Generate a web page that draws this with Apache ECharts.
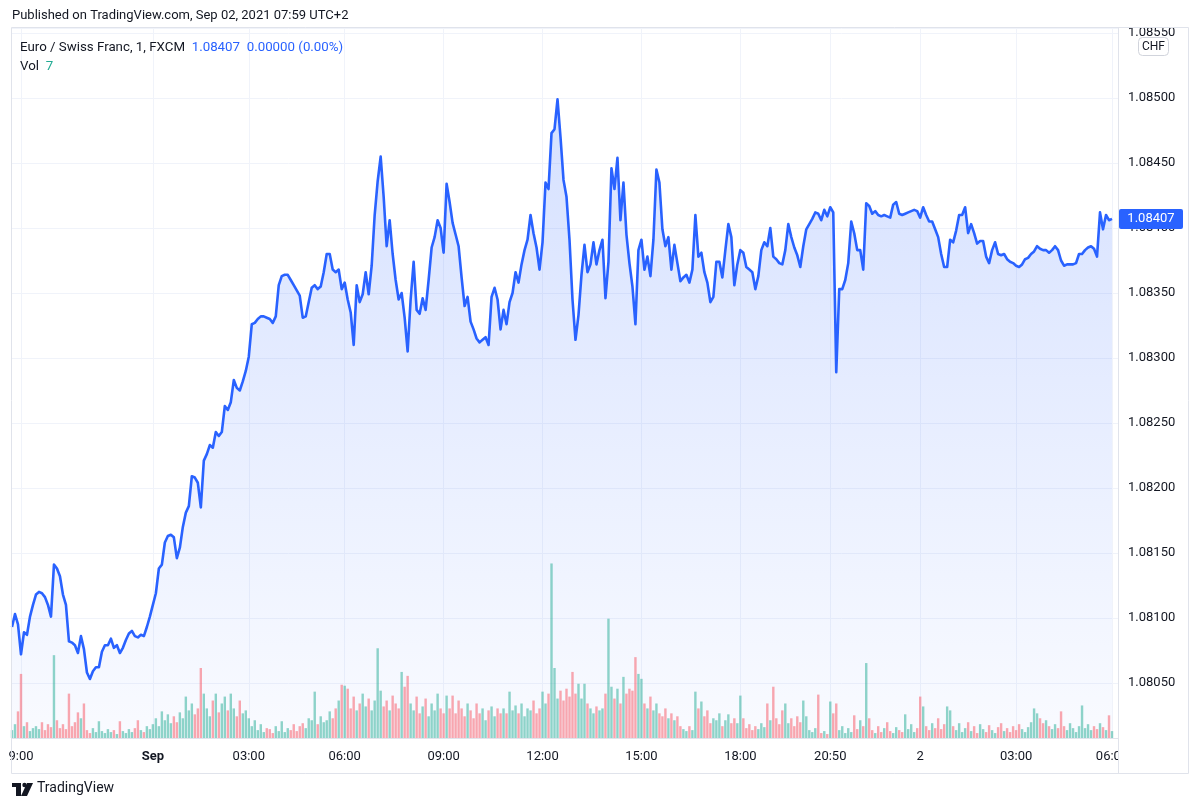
<!DOCTYPE html>
<html><head><meta charset="utf-8">
<script src="https://cdn.jsdelivr.net/npm/echarts@6/dist/echarts.min.js"></script>
<style>html,body{margin:0;padding:0;background:#fff}#chart{width:1200px;height:808px}</style>
</head><body><div id="chart"></div>
<script>
// ---- data (EUR/CHF, 1-minute, FXCM) ----
const priceValues = [
1.08093,1.08103,1.08095,1.08072,1.08089,1.08087,1.08101,1.08110,1.08118,1.08120,
1.08119,1.08116,1.08110,1.08101,1.08141,1.08138,1.08132,1.08118,1.08110,1.08082,
1.08081,1.08079,1.08073,1.08086,1.08076,1.08058,1.08053,1.08059,1.08062,1.08062,
1.08074,1.08079,1.08079,1.08084,1.08077,1.08079,1.08073,1.08077,1.08083,1.08088,
1.08090,1.08086,1.08085,1.08087,1.08086,1.08093,1.08101,1.08110,1.08119,1.08138,
1.08141,1.08158,1.08163,1.08164,1.08162,1.08146,1.08154,1.08170,1.08181,1.08186,
1.08209,1.08208,1.08204,1.08185,1.08221,1.08226,1.08233,1.08231,1.08243,1.08240,
1.08243,1.08263,1.08260,1.08266,1.08283,1.08277,1.08275,1.08282,1.08290,1.08301,
1.08326,1.08327,1.08330,1.08332,1.08332,1.08331,1.08330,1.08327,1.08332,
1.08356,1.08363,1.08364,1.08364,1.08360,1.08356,1.08352,1.08348,1.08331,1.08332,
1.08343,1.08354,1.08356,1.08353,1.08355,1.08366,1.08380,1.08380,1.08368,1.08366,
1.08368,1.08353,1.08358,1.08345,1.08335,1.08310,1.08356,1.08343,1.08349,1.08366,
1.08349,1.08371,1.08410,1.08436,1.08455,1.08424,1.08386,1.08406,1.08380,1.08360,
1.08345,1.08350,1.08331,1.08305,1.08345,1.08374,1.08337,1.08334,1.08346,1.08337,
1.08360,1.08385,1.08393,1.08406,1.08400,1.08381,1.08434,1.08420,1.08404,1.08395,
1.08386,1.08362,1.08340,1.08347,1.08328,1.08322,1.08315,1.08312,1.08314,1.08316,
1.08310,1.08347,1.08354,1.08345,1.08322,1.08337,1.08326,1.08343,1.08350,1.08366,
1.08358,1.08372,1.08383,1.08391,1.08410,1.08396,1.08385,1.08368,1.08389,1.08435,
1.08430,1.08473,1.08476,1.08499,
1.08470,1.08437,1.08424,1.08391,1.08345,1.08314,1.08333,1.08364,1.08387,1.08366,
1.08372,1.08389,1.08372,1.08383,1.08391,1.08346,1.08374,1.08446,1.08430,1.08454,
1.08406,1.08435,1.08395,1.08373,1.08355,1.08326,1.08383,1.08391,1.08368,1.08378,
1.08363,1.08391,1.08445,1.08435,1.08399,1.08386,1.08393,1.08368,1.08387,1.08373,
1.08359,1.08362,1.08364,1.08358,1.08368,1.08410,1.08378,1.08381,1.08366,1.08358,
1.08343,1.08347,1.08374,1.08374,1.08362,1.08383,1.08403,1.08393,1.08356,1.08372,
1.08383,1.08381,1.08370,1.08368,1.08366,1.08353,1.08363,1.08383,1.08389,1.08386,
1.08400,1.08378,1.08376,1.08373,1.08372,1.08383,1.08403,1.08393,1.08385,1.08379,
1.08370,1.08386,1.08399,1.08403,1.08407,1.08412,1.08411,1.08406,1.08414,1.08409,
1.08416,1.08412,
1.08289,1.08353,1.08353,1.08360,1.08373,1.08405,1.08396,1.08383,1.08383,1.08368,
1.08419,1.08417,1.08411,1.08413,1.08410,1.08409,1.08410,1.08409,1.08408,1.08418,
1.08420,1.08411,1.08410,1.08411,1.08412,1.08413,1.08414,1.08413,1.08408,1.08416,
1.08410,1.08405,1.08405,1.08399,1.08393,1.08380,1.08370,1.08370,1.08391,1.08389,
1.08398,1.08410,1.08410,1.08416,1.08396,1.08403,1.08396,1.08388,1.08390,1.08390,
1.08378,1.08373,1.08383,1.08389,1.08380,1.08379,1.08380,1.08376,1.08374,1.08373,
1.08371,1.08370,1.08372,1.08376,1.08377,1.08380,1.08382,1.08386,1.08384,1.08383,
1.08383,1.08381,1.08383,1.08386,1.08383,1.08375,1.08371,1.08372,1.08372,1.08372,
1.08373,1.08380,1.08380,1.08383,1.08385,1.08386,1.08384,1.08378,1.08412,1.08399,
1.08410,1.08406,1.08407
];
const volumeValues = [
8,14,27,65,12,16,7,10,
12,9,16,8,14,11,
84,
18,10,14,9,45,12,16,26,20,35,
8,5,10,6,17,7,5,9,6,8,4,17,7,5,9,6,10,18,8,6,12,9,
14,20,12,27,18,24,15,22,16,26,20,
42,28,35,24,30,71,
45,30,22,38,45,26,35,42,28,45,30,22,38,25,28,20,
12,18,8,14,6,10,9,5,12,7,17,6,10,8,14,7,12,
15,10,20,18,47,14,22,16,18,27,20,
30,38,54,53,50,30,42,28,35,45,32,40,28,38,91,
48,32,38,28,43,35,30,
67,52,63,35,28,42,25,32,40,22,35,28,45,30,25,
43,30,43,25,38,30,22,35,28,20,35,25,30,18,
28,32,22,30,25,
30,25,47,28,33,25,35,22,30,28,38,25,30,47,35,
45,177,71,40,48,38,50,42,67,45,55,40,55,35,30,25,32,28,
30,45,121,52,40,50,35,62,45,50,48,82,65,60,35,30,
42,28,35,25,22,30,20,25,18,22,12,9,7,12,8,
47,30,37,22,28,15,20,18,25,12,18,24,15,
20,15,43,20,10,14,8,12,9,15,11,35,18,52,20,14,28,35,15,20,12,22,16,
38,22,8,6,10,44,5,7,4,37,25,
35,8,12,5,10,6,23,9,18,12,76,
20,8,5,12,6,10,16,7,5,11,8,6,24,9,14,6,10,42,
32,12,8,15,10,20,9,14,32,28,
12,8,15,6,10,16,7,12,5,14,9,6,13,8,5,11,15,7,10,6,12,8,14,9,6,11,16,
30,25,20,15,18,12,9,
14,10,27,12,8,15,10,6,12,33,10,14,8,12,9,15,11,8,23,7
];
const timeTickIndex = [3, 47, 79, 111, 144, 177, 210, 243, 273, 303, 335, 367];
const timeTickText = ['9:00', 'Sep', '03:00', '06:00', '09:00', '12:00', '15:00', '18:00', '20:50', '2', '03:00', '06:00'];
const priceMin = 1.080076;
const priceMax = 1.085539;
const lastPrice = 1.08407;
const lastVolume = 7;
const priceChange = '0.00000 (0.00%)';
const symbolTitle = 'Euro / Swiss Franc, 1, FXCM';
const currency = 'CHF';
const publishedText = 'Published on TradingView.com, Sep 02, 2021 07:59 UTC+2';

// ---- chart ----
const FONT = 'Roboto, "Noto Sans", "DejaVu Sans", sans-serif';
const TEXT = '#131722';
const BLUE = '#2962ff';
const categories = Array.from({length: priceValues.length + 2}, (_, i) => String(i));
const tickMap = {};
timeTickIndex.forEach((k, i) => { tickMap[k] = timeTickText[i]; });

const chart = echarts.init(document.getElementById('chart'), null, {renderer: 'canvas'});
chart.setOption({
  animation: false,
  backgroundColor: '#ffffff',
  grid: {left: 12, right: 82, top: 28, bottom: 70, containLabel: false},
  xAxis: {
    type: 'category', data: categories, boundaryGap: false,
    axisLine: {show: false}, axisTick: {show: false},
    axisLabel: {
      interval: (i) => tickMap[i] !== undefined,
      formatter: (v, i) => tickMap[i] === 'Sep' ? '{b|Sep}' : (tickMap[i] || ''),
      color: TEXT, fontSize: 13, fontFamily: FONT, margin: 12,
      rich: {b: {fontWeight: 'bold', color: TEXT, fontSize: 13, fontFamily: FONT}}
    },
    splitLine: {show: true, interval: (i) => tickMap[i] !== undefined, lineStyle: {color: '#f0f3fa', width: 1}}
  },
  yAxis: [{
    type: 'value', position: 'right', min: priceMin, max: priceMax, splitNumber: 10, scale: true,
    axisLine: {show: false}, axisTick: {show: false},
    axisLabel: {formatter: (v) => v.toFixed(5), color: TEXT, fontSize: 13, fontFamily: FONT, margin: 10,
      showMinLabel: false, showMaxLabel: false},
    splitLine: {lineStyle: {color: '#f0f3fa', width: 1}}
  }, {
    type: 'value', min: 0, max: 720, show: false
  }],
  series: [{
    type: 'line', data: priceValues, showSymbol: false, z: 2,
    lineStyle: {color: BLUE, width: 2.6, join: 'round'},
    itemStyle: {color: BLUE},
    areaStyle: {color: new echarts.graphic.LinearGradient(0, 0, 0, 1, [
      {offset: 0, color: 'rgba(41,98,255,0.28)'},
      {offset: 1, color: 'rgba(41,98,255,0.04)'}
    ])},
    markLine: {
      silent: true, symbol: 'none', label: {show: false},
      lineStyle: {color: BLUE, type: [1, 2], width: 1, opacity: 0.8},
      data: [{yAxis: lastPrice}]
    }
  }, {
    type: 'bar', yAxisIndex: 1, data: volumeValues, barWidth: 2.4, z: 3,
    itemStyle: {color: (p) => {
      const k = p.dataIndex;
      const up = k === 0 ? true : priceValues[k] >= priceValues[k - 1];
      return up ? 'rgba(34,171,148,0.5)' : 'rgba(247,82,95,0.5)';
    }}
  }]
});

const yLast = chart.convertToPixel({yAxisIndex: 0}, lastPrice);
chart.setOption({graphic: [
  {type: 'text', left: 12, top: 9, style: {text: publishedText, fill: TEXT, font: '13px ' + FONT}},
  {type: 'rect', z: 50, shape: {x: 11.5, y: 27.5, width: 1177, height: 746}, style: {fill: 'none', stroke: '#e0e3eb', lineWidth: 1}},
  {type: 'line', z: 50, shape: {x1: 1118.5, y1: 28, x2: 1118.5, y2: 774}, style: {stroke: '#e0e3eb', lineWidth: 1}},
  {type: 'line', z: 50, shape: {x1: 12, y1: 738.5, x2: 1118, y2: 738.5}, style: {stroke: '#e0e3eb', lineWidth: 1}},
  {type: 'rect', z: 60, shape: {x: 1119, y: 739, width: 69, height: 34}, style: {fill: '#ffffff'}},
  {type: 'text', z: 60, left: 20, top: 41, style: {
    text: '{t|' + symbolTitle + '}  {v|' + lastPrice.toFixed(5) + '}  {v|' + priceChange + '}',
    rich: {t: {fill: TEXT, font: '13.3px ' + FONT}, v: {fill: BLUE, font: '13.3px ' + FONT}}
  }},
  {type: 'text', z: 60, left: 20, top: 60, style: {
    text: '{t|Vol}  {g|' + lastVolume + '}',
    rich: {t: {fill: TEXT, font: '13.3px ' + FONT}, g: {fill: '#22ab94', font: '13.3px ' + FONT}}
  }},
  {type: 'rect', z: 60, shape: {x: 1138.5, y: 37.5, width: 30, height: 18, r: 4}, style: {fill: '#ffffff', stroke: '#d1d4dc', lineWidth: 1}},
  {type: 'text', z: 61, x: 1153.5, y: 46.5, style: {text: currency, fill: TEXT, font: '12px ' + FONT, align: 'center', verticalAlign: 'middle'}},
  {type: 'rect', z: 60, shape: {x: 1119, y: yLast - 10, width: 64, height: 20, r: 2}, style: {fill: BLUE}},
  {type: 'text', z: 61, x: 1151, y: yLast, style: {text: lastPrice.toFixed(5), fill: '#ffffff', font: '13px ' + FONT, align: 'center', verticalAlign: 'middle'}},
  {type: 'rect', z: 60, shape: {x: 12, y: 783, width: 9, height: 4}, style: {fill: TEXT}},
  {type: 'rect', z: 60, shape: {x: 16, y: 783, width: 5, height: 13}, style: {fill: TEXT}},
  {type: 'circle', z: 60, shape: {cx: 24.5, cy: 785, r: 2.2}, style: {fill: TEXT}},
  {type: 'polygon', z: 60, shape: {points: [[27, 783], [33, 783], [27, 796], [21, 796]]}, style: {fill: TEXT}},
  {type: 'text', z: 60, left: 37, top: 781, style: {text: 'TradingView', fill: TEXT, font: '14px ' + FONT}}
]});
</script></body></html>
